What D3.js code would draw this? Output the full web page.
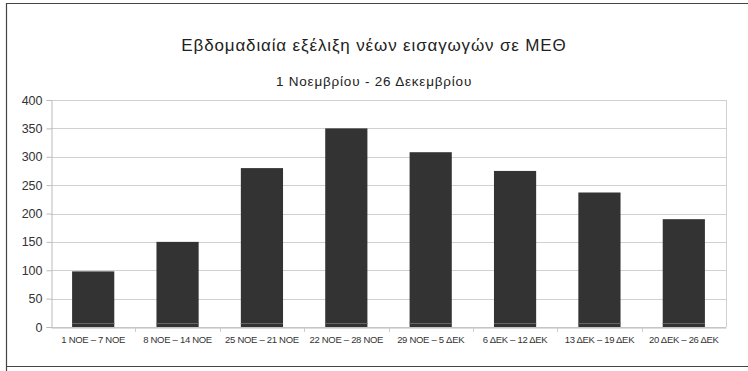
<!DOCTYPE html>
<html>
<head>
<meta charset="utf-8">
<script src="https://cdn.jsdelivr.net/npm/d3@7"></script>
<style>
  body { margin: 0; background: #fff; }
  svg { display: block; font-family: "Liberation Sans", Arial, sans-serif; }
</style>
</head>
<body>
<svg class="grafima" width="748" height="371"></svg>
<script>
const weeks = ["1 NOE – 7 NOE", "8 NOE – 14 NOE", "25 NOE – 21 NOE", "22 NOE – 28 NOE",
  "29 NOE – 5 ΔΕΚ", "6 ΔΕΚ – 12 ΔΕΚ", "13 ΔΕΚ – 19 ΔΕΚ", "20 ΔΕΚ – 26 ΔΕΚ"]
const admissions = [98, 150, 280, 350, 308, 275, 237, 190]
const yTicks = [0, 50, 100, 150, 200, 250, 300, 350, 400]

const svg = d3.select('.grafima')

// frame
svg.append('path')
  .attr('d', 'M6.5,371 V3.5 H748 M6,366.5 H748')
  .attr('fill', 'none')
  .attr('stroke', '#444')
  .attr('stroke-width', 1.2)

const pLeft = 51, pRight = 726, pTop = 100, pBottom = 327

const x = d3.scaleBand()
  .domain(weeks)
  .range([pLeft, pRight])
  .paddingInner(0.5)
  .paddingOuter(0.25)

const xb = d3.scaleBand().domain(weeks).range([pLeft, pRight])

const y = d3.scaleLinear()
  .domain([0, 400])
  .range([pBottom, pTop])

// grid
svg.append('g')
  .selectAll('line')
  .data(yTicks)
  .join('line')
  .attr('x1', pLeft).attr('x2', pRight)
  .attr('y1', d => Math.round(y(d)) + 0.5).attr('y2', d => Math.round(y(d)) + 0.5)
  .attr('stroke', '#d0d0d0')

svg.append('line')
  .attr('x1', pRight + 0.5).attr('x2', pRight + 0.5)
  .attr('y1', pTop).attr('y2', pBottom)
  .attr('stroke', '#d0d0d0')

// y axis
const yAxis = svg.append('g')
  .attr('transform', `translate(${pLeft + 0.5},0)`)
  .call(d3.axisLeft(y).tickValues(yTicks).tickSize(5).tickPadding(4))
yAxis.select('.domain').attr('stroke', '#bbb')
yAxis.selectAll('.tick line').attr('stroke', '#bbb')
yAxis.selectAll('text').attr('font-size', 12.5).attr('fill', '#333')
  .attr('font-family', '"Liberation Sans", Arial, sans-serif')

// x axis
const xAxis = svg.append('g')
  .attr('transform', `translate(0,${pBottom + 0.5})`)
  .call(d3.axisBottom(xb).tickSize(0).tickPadding(9))
xAxis.select('.domain').attr('stroke', '#bbb')
xAxis.selectAll('text').attr('font-size', 9.5).attr('fill', '#333')
  .attr('letter-spacing', -0.3)
  .attr('font-family', '"Liberation Sans", Arial, sans-serif')

svg.append('g')
  .selectAll('line')
  .data(weeks.slice(1))
  .join('line')
  .attr('x1', d => Math.round(xb(d)) + 0.5).attr('x2', d => Math.round(xb(d)) + 0.5)
  .attr('y1', pBottom).attr('y2', pBottom + 5)
  .attr('stroke', '#ccc')

// bars
svg.append('g')
  .selectAll('rect')
  .data(admissions)
  .join('rect')
  .attr('x', (d, i) => x(weeks[i]))
  .attr('y', d => y(d))
  .attr('width', x.bandwidth())
  .attr('height', d => pBottom - y(d))
  .attr('fill', '#333')

svg.append('g')
  .selectAll('line')
  .data(admissions)
  .join('line')
  .attr('x1', (d, i) => x(weeks[i])).attr('x2', (d, i) => x(weeks[i]) + x.bandwidth())
  .attr('y1', pBottom - 3.5).attr('y2', pBottom - 3.5)
  .attr('stroke', '#666')

// titles
svg.append('text')
  .attr('x', 374).attr('y', 51)
  .attr('text-anchor', 'middle')
  .attr('font-size', 17)
  .attr('letter-spacing', 0.85)
  .attr('fill', '#222')
  .text('Εβδομαδιαία εξέλιξη νέων εισαγωγών σε ΜΕΘ')

svg.append('text')
  .attr('x', 374).attr('y', 86)
  .attr('text-anchor', 'middle')
  .attr('font-size', 13.5)
  .attr('letter-spacing', 0.8)
  .attr('fill', '#222')
  .text('1 Νοεμβρίου - 26 Δεκεμβρίου')
</script>
</body>
</html>
